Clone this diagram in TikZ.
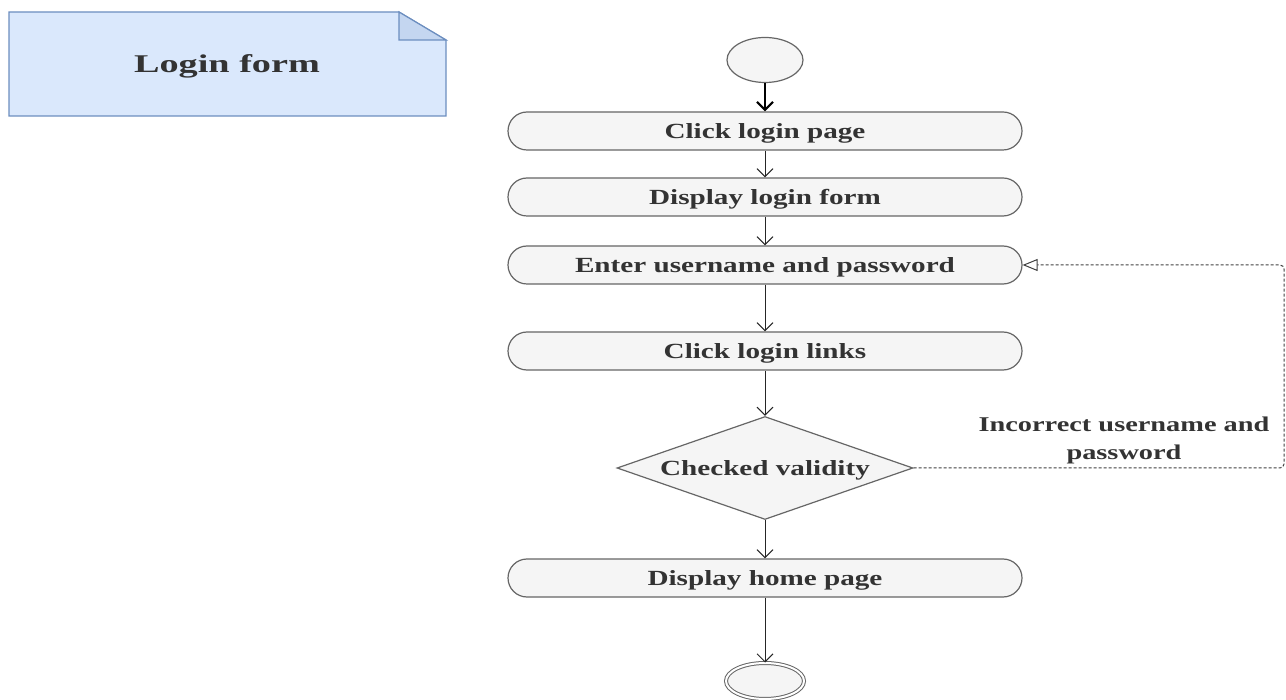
\documentclass[tikz,border=0pt]{standalone}
\usepackage{fontspec}
\setmainfont{Liberation Serif}[FakeStretch=1.35]
\newfontfamily\notefont{Liberation Serif}[FakeStretch=1.5]
\usetikzlibrary{arrows.meta, shapes.geometric}
\definecolor{actfill}{HTML}{F5F5F5}
\definecolor{actline}{HTML}{666666}
\definecolor{notefill}{HTML}{DAE8FC}
\definecolor{noteline}{HTML}{6C8EBF}
\definecolor{txt}{HTML}{333333}

\begin{document}
\begin{tikzpicture}[
    x=1pt, y=-1pt,
    line width=1pt,
    arr/.style={black!85, -{Straight Barb[length=8pt, width=16pt]}},
    back/.style={black!75, dash pattern=on 3pt off 2pt, rounded corners=4pt,
        -{Triangle[open, length=15pt, width=12pt]}},
    lab/.style={font=\fontsize{21}{28}\selectfont\bfseries, text=txt},
    act/.style={lab, font=\fontsize{21.6}{26}\selectfont\bfseries, fill=actfill,
        draw=actline, line width=1.2pt, rounded corners=19pt,
        text height=17pt, text depth=2pt,
        minimum width=514pt, minimum height=38pt, inner sep=0pt},
    circ/.style={ellipse, fill=actfill, draw=actline, line width=1.2pt,
        minimum width=76pt, minimum height=45pt},
    dec/.style={act, diamond, rounded corners=0pt, aspect=2.87,
        minimum width=296pt, minimum height=103pt},
  ]
  \useasboundingbox (0,0) rectangle (1286,700);

  % note
  \draw[fill=notefill, draw=noteline, line width=1.2pt]
  (9,12) -- (399,12) -- (446,40) -- (446,116) -- (9,116) -- cycle;
  \draw[fill=notefill!80!noteline, draw=noteline, line width=1.2pt]
  (399,12) -- (399,40) -- (446,40) -- cycle;
  \node[font=\notefont\fontsize{25.5}{30}\selectfont\bfseries, text=txt] (note) at (227,66) {Login form};

  % activity
  \node[circ] (start) at (765,60) {};
  \foreach \n/\y/\t in {click/131/Click login page, disp/197/Display login form,
      enter/265/Enter username and password, links/351/Click login links,
      home/578/Display home page}{
      \node[act] (\n) at (765,\y) {\t};
    }
  \node[dec] (chk) at (765,468) {Checked validity};
  \node[circ, double=white, double distance=2pt, line width=1pt,
    minimum width=78pt, minimum height=36pt] (stop) at (765,681) {};

  \draw[arr, black, line width=2.2pt] (start) -- (click);
  \foreach \a/\b in {click/disp, disp/enter, enter/links, links/chk, chk/home, home/stop}{
      \draw[arr] (\a) -- (\b);
    }

  \coordinate (turn) at (1284,360);
  \draw[back] (chk.east) -| (turn) |- (enter.east);
  \node[lab, align=center] (wrong) at (1124,440) {Incorrect username and\\password};
\end{tikzpicture}
\end{document}
